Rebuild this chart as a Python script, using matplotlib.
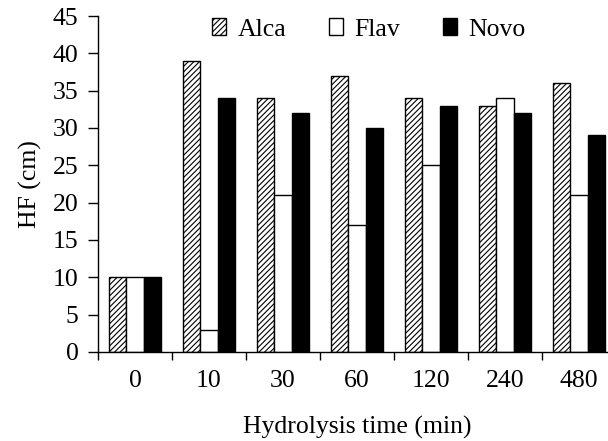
import matplotlib
matplotlib.use("Agg")
import matplotlib.pyplot as plt
import numpy as np

plt.rcParams['font.family'] = ['Liberation Serif', 'DejaVu Serif']
plt.rcParams['hatch.linewidth'] = 0.8

categories = ["0", "10", "30", "60", "120", "240", "480"]
alca = [10, 39, 34, 37, 34, 33, 36]
flav = [10, 3, 21, 17, 25, 34, 21]
novo = [10, 34, 32, 30, 33, 32, 29]

FS = 18.5

fig = plt.figure(figsize=(6.08, 4.41), dpi=100)
ax = fig.add_axes([98/608, (441-352)/441, (616-98)/608, (352-16)/441])

x = np.arange(len(categories))
w = 0.23
ax.bar(x - w, alca, w, facecolor='white', edgecolor='black', hatch='//////', linewidth=1.0, label='Alca')
ax.bar(x, flav, w, facecolor='white', edgecolor='black', linewidth=1.0, label='Flav')
ax.bar(x + w, novo, w, facecolor='black', edgecolor='black', linewidth=1.0, label='Novo')

ax.set_xlim(-0.5, len(categories) - 0.5)
ax.set_ylim(0, 45)
ax.set_yticks(np.arange(0, 46, 5))
ax.set_xticks(x)
ax.set_xticklabels(categories, fontsize=FS)
ax.set_xticks(np.arange(-0.5, len(categories), 1), minor=True)
ax.tick_params(axis='x', which='major', length=0, pad=13)
ax.tick_params(axis='x', which='minor', length=6, direction='out', width=1)
ax.tick_params(axis='y', labelsize=FS, length=7, pad=7, direction='out', width=1)
for s in ['top', 'right']:
    ax.spines[s].set_visible(False)
ax.spines['left'].set_linewidth(1)
ax.spines['bottom'].set_linewidth(1)

ax.set_ylabel("HF (cm)", fontsize=FS, labelpad=8)
ax.set_xlabel("Hydrolysis time (min)", fontsize=FS, labelpad=17)

ax.legend(loc='center left', bbox_to_anchor=((212-98)/518, (352-29.5)/336), ncol=3, frameon=False,
          fontsize=FS, handlelength=0.55, handleheight=0.6, handletextpad=0.45,
          columnspacing=1.65, borderaxespad=0, borderpad=0)

fig.savefig("out.png", dpi=100)
